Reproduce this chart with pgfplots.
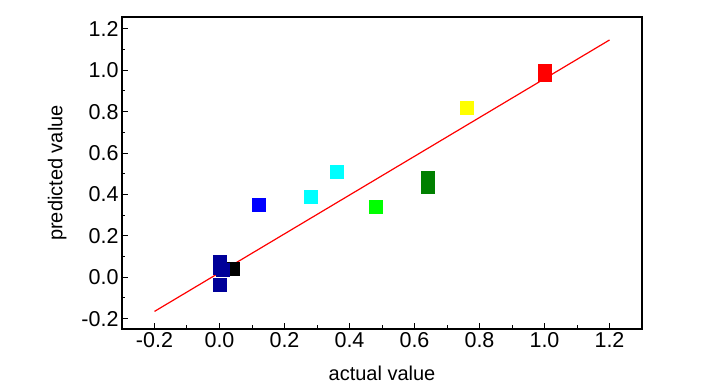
\documentclass[border=0pt]{standalone}
\usepackage{pgfplots}
\pgfplotsset{compat=1.18}
\usepackage{fontspec}
\setmainfont{Liberation Sans}
\definecolor{navy}{RGB}{0,0,153}
\definecolor{dgreen}{RGB}{0,128,0}
\definecolor{cy}{RGB}{0,255,255}
\definecolor{gr}{RGB}{0,255,0}
\definecolor{yl}{RGB}{255,255,0}
\definecolor{bl}{RGB}{0,0,255}
\definecolor{rd}{RGB}{255,0,0}
\begin{document}
\begin{tikzpicture}
\begin{axis}[
  scale only axis, width=520pt, height=312pt,
  xmin=-0.3, xmax=1.3, ymin=-0.25, ymax=1.257,
  xtick={-0.2,0,...,1.2}, ytick={-0.2,0,...,1.2},
  minor xtick={-0.1,0.1,...,1.3}, minor ytick={-0.1,0.1,...,1.2},
  xticklabel style={/pgf/number format/.cd,fixed,fixed zerofill,precision=1},
  yticklabel style={/pgf/number format/.cd,fixed,fixed zerofill,precision=1},
  /pgf/number format/assume math mode=true,
  tick label style={font=\fontsize{21.5}{23}\selectfont},
  label style={font=\fontsize{20}{22}\selectfont},
  xlabel={actual value}, ylabel={predicted value},
  xlabel style={at={(rel axis cs:0.5,0)},anchor=north,yshift=-33pt},
  ylabel style={yshift=8pt},
  tick pos=left, tick align=inside,
  major tick length=6pt, minor tick length=3.5pt,
  every tick/.style={black,line width=1pt},
  axis line style={line width=1.3pt},
  clip=false,
]
\addplot[only marks, mark=square*, mark size=6.3pt, color=black] coordinates {(0.04,0.04)};
\addplot[only marks, mark=square*, mark size=6.3pt, color=navy] coordinates {(0,0.075) (0,0.045) (0.01,0.035) (0,-0.035)};
\addplot[only marks, mark=square*, mark size=6.3pt, color=bl] coordinates {(0.12,0.35)};
\addplot[only marks, mark=square*, mark size=6.3pt, color=cy] coordinates {(0.28,0.39) (0.36,0.51)};
\addplot[only marks, mark=square*, mark size=6.3pt, color=gr] coordinates {(0.48,0.34)};
\addplot[only marks, mark=square*, mark size=6.3pt, color=dgreen] coordinates {(0.64,0.48) (0.64,0.435)};
\addplot[only marks, mark=square*, mark size=6.3pt, color=yl] coordinates {(0.76,0.82)};
\addplot[only marks, mark=square*, mark size=6.3pt, color=rd] coordinates {(1.0,1.0) (1.0,0.975)};
\addplot[rd, line width=1.2pt, no marks] coordinates {(-0.2,-0.165) (1.2,1.146)};
\path (rel axis cs:0,0) ++(-122pt,-61pt) rectangle ++(727pt,390pt);
\end{axis}
\end{tikzpicture}
\end{document}
